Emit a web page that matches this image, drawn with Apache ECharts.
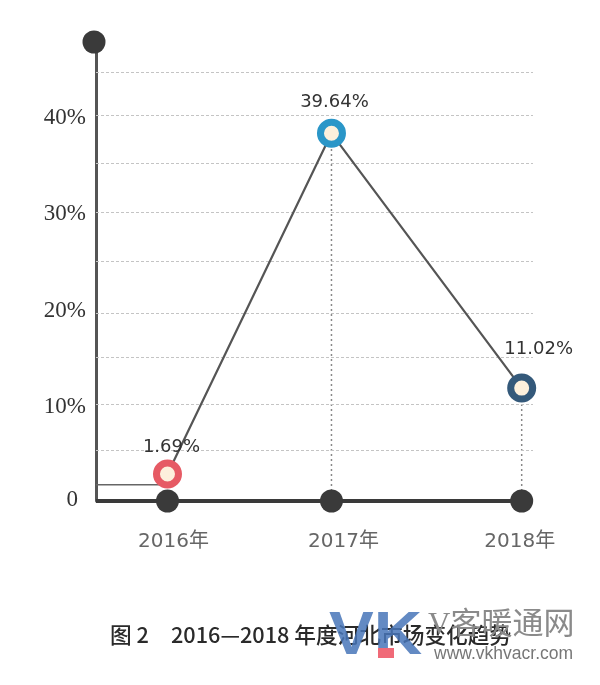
<!DOCTYPE html>
<html>
<head>
<meta charset="utf-8">
<style>
    html, body {margin: 0; padding: 0; background: #fff;}
    #box {width: 600px; height: 685px;}
</style>
<script src="https://cdn.jsdelivr.net/npm/echarts@6/dist/echarts.min.js"></script>
</head>
<body>
<div id="box"></div>
<script>
var yearNames = ['2016年', '2017年', '2018年'];
var yearX = [2016, 2017, 2018.16];          // the picture spaces the years unevenly
var shareLabels = ['1.69%', '39.64%', '11.02%'];
var markerY = [2.8, 38.1, 11.7];            // marker height as drawn against the axis
var guideValue = 1.69;
var markerColors = ['#e65a64', '#2a96c8', '#34597a'];
var yTicks = [0, 10, 20, 30, 40];
var gridValues = [5.3, 10, 14.9, 19.5, 24.8, 29.9, 35, 40, 44.4];

var xMin = 2015.564, xMax = 2018.229, yMax = 47.56;

var chart = echarts.init(document.getElementById('box'));

var labelOffsets = [[4, 2], [3, -2], [17, -10]];
var yearLabelOffsets = [[6, 14], [12, 14], [-2, 14]];

var option = {
    animation: false,
    backgroundColor: '#fff',
    textStyle: {fontFamily: '"DejaVu Sans", "Noto Sans CJK SC"'},
    grid: {left: 96, right: 67, top: 42, bottom: 184},
    xAxis: {
        type: 'value',
        min: xMin,
        max: xMax,
        axisLine: {show: false},
        axisTick: {show: false},
        axisLabel: {show: false},
        splitLine: {show: false}
    },
    yAxis: {
        type: 'value',
        min: 0,
        max: yMax,
        axisLine: {show: true, lineStyle: {color: '#555', width: 3}},
        axisTick: {show: false},
        splitLine: {show: false},
        axisLabel: {
            customValues: yTicks,
            margin: 10,
            padding: [5, 0, 0, 0],
            fontFamily: '"Liberation Serif"',
            fontSize: 23,
            color: '#333',
            formatter: function (v) {
                return v === 0 ? '{zero|0}' : v + '%';
            },
            rich: {
                zero: {fontFamily: '"Liberation Serif"', fontSize: 23, color: '#333', padding: [0, 8, 8, 0]}
            }
        }
    },
    series: [
        // dashed grid lines, unevenly spaced like the picture
        {
            type: 'line',
            data: [],
            markLine: {
                silent: true,
                symbol: 'none',
                label: {show: false},
                lineStyle: {color: '#c4c4c4', type: [3, 2], width: 1},
                data: gridValues.map(function (v) {
                    return {yAxis: v};
                })
            }
        },
        // dotted drop lines
        {
            type: 'line',
            symbol: 'none',
            lineStyle: {color: '#888', type: [2, 3], width: 1.5},
            data: [[yearX[1], 0], [yearX[1], markerY[1]]]
        },
        {
            type: 'line',
            symbol: 'none',
            lineStyle: {color: '#888', type: [2, 3], width: 1.5},
            data: [[yearX[2], 0], [yearX[2], markerY[2]]]
        },
        // 1.69 guide
        {
            type: 'line',
            symbol: 'none',
            lineStyle: {color: '#666', width: 1.5},
            data: [[xMin, guideValue], [yearX[0], guideValue]]
        },
        // baseline with year dots
        {
            type: 'line',
            symbol: 'none',
            z: 3,
            lineStyle: {color: '#3a3a3a', width: 4},
            data: [[xMin, 0], [yearX[2], 0]]
        },
        {
            type: 'scatter',
            symbolSize: 23,
            z: 4,
            clip: false,
            itemStyle: {color: '#3a3a3a', opacity: 1},
            data: yearX.map(function (x, i) {
                return {
                    value: [x, 0],
                    label: {
                        show: true,
                        position: 'bottom',
                        offset: yearLabelOffsets[i],
                        formatter: yearNames[i],
                        fontSize: 20,
                        color: '#666'
                    }
                };
            })
        },
        // dot on top of the y axis
        {
            type: 'scatter',
            symbolSize: 23,
            symbolOffset: [-2, 0],
            clip: false,
            z: 4,
            itemStyle: {color: '#3a3a3a', opacity: 1},
            data: [[xMin, yMax]]
        },
        // trend line with ring markers
        {
            type: 'line',
            z: 5,
            symbol: 'circle',
            symbolSize: 22,
            clip: false,
            lineStyle: {color: '#555', width: 2.2},
            data: yearX.map(function (x, i) {
                return {
                    value: [x, markerY[i]],
                    itemStyle: {color: '#fdf0dc', borderColor: markerColors[i], borderWidth: 7, opacity: 1},
                    label: {
                        show: true,
                        position: 'top',
                        distance: 5,
                        offset: labelOffsets[i],
                        formatter: shareLabels[i],
                        fontSize: 18,
                        color: '#333'
                    }
                };
            })
        }
    ],
    graphic: [
        {type: 'text', left: 110, top: 624, z: 10, style: {text: '图 2', fontFamily: '"Noto Sans CJK SC"', fontSize: 21.7, fontWeight: 500, fill: '#2a2a2a'}},
        {type: 'text', left: 171, top: 624, z: 10, style: {text: '2016—2018 年度河北市场变化趋势', fontFamily: '"Noto Sans CJK SC"', fontSize: 21.7, fontWeight: 500, fill: '#2a2a2a'}},
        {type: 'text', x: 329, y: 607, scaleX: 1.1, z: 11, style: {text: 'VK', fontFamily: '"Liberation Sans"', fontSize: 61, fontWeight: 'bold', fill: 'rgba(72,118,184,0.85)'}},
        {type: 'rect', z: 12, shape: {x: 378, y: 648, width: 16, height: 10}, style: {fill: '#f06a78'}},
        {type: 'text', left: 428, top: 610, z: 11, style: {text: 'V客暖通网', fontFamily: '"Liberation Serif", "Noto Sans CJK SC"', fontSize: 31, fill: '#8a8a8a'}},
        {type: 'text', left: 434, top: 645, z: 11, style: {text: 'www.vkhvacr.com', fontFamily: '"Liberation Sans"', fontSize: 17.5, fill: '#777'}}
    ]
};

chart.setOption(option);
</script>
</body>
</html>
